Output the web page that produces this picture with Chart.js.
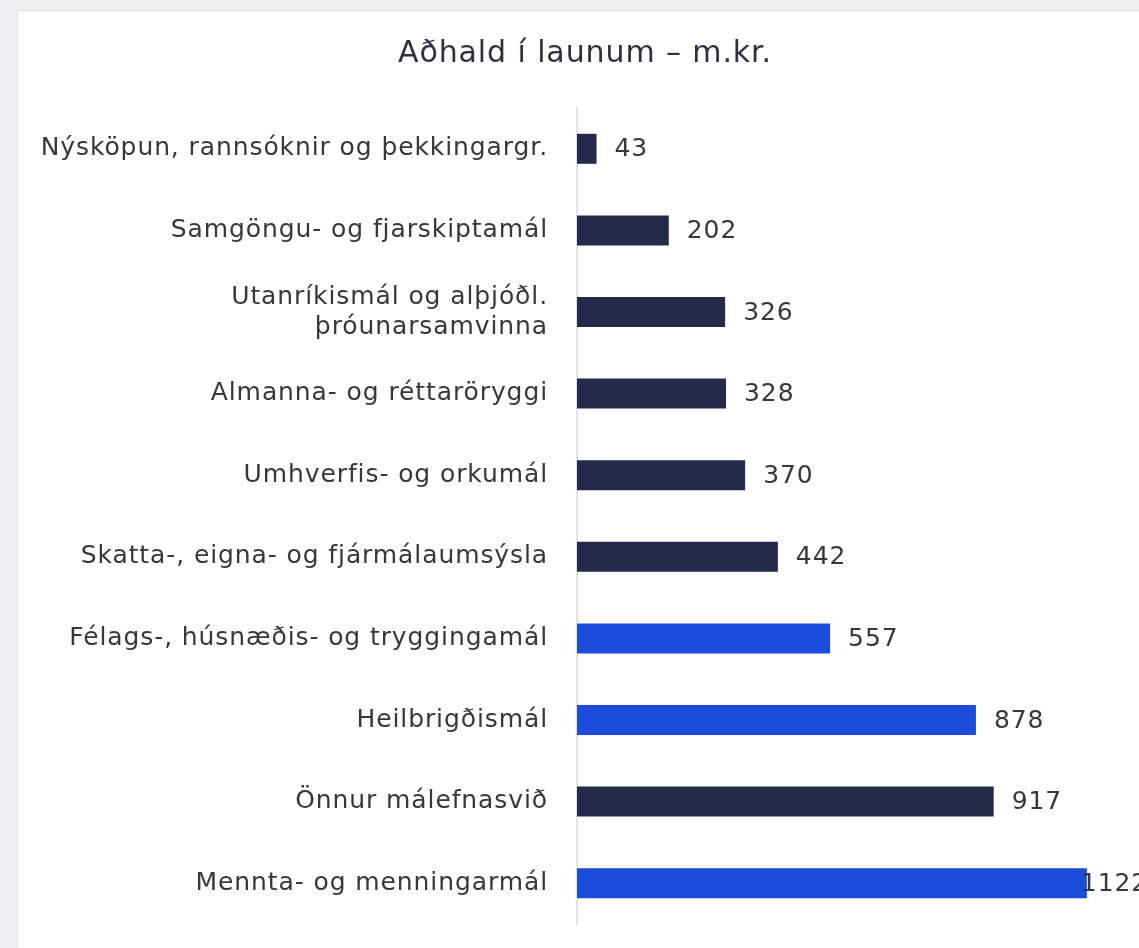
<!DOCTYPE html>
<html>
<head>
<meta charset="utf-8">
<script src="https://cdn.jsdelivr.net/npm/chart.js@4.4.1/dist/chart.umd.min.js"></script>
<style>
  html, body { margin: 0; padding: 0; width: 1139px; height: 948px; overflow: hidden; background: #efeff1; }
  #card { position: absolute; left: 17px; top: 10px; width: 1200px; height: 1000px; background: #ffffff; border: 1px solid #dedee4; }
  #wrap { position: absolute; left: 0; top: 0; width: 1170px; height: 948px; }
</style>
</head>
<body>
<div id="card"></div>
<div id="wrap"><canvas id="c" width="1170" height="948"></canvas></div>
<script>
const titleText = 'Aðhald í launum – m.kr.';
const categories = [
  'Nýsköpun, rannsóknir og þekkingargr.',
  'Samgöngu- og fjarskiptamál',
  ['Utanríkismál og alþjóðl.', 'þróunarsamvinna'],
  'Almanna- og réttaröryggi',
  'Umhverfis- og orkumál',
  'Skatta-, eigna- og fjármálaumsýsla',
  'Félags-, húsnæðis- og tryggingamál',
  'Heilbrigðismál',
  'Önnur málefnasvið',
  'Mennta- og menningarmál'
];
const values = [43, 202, 326, 328, 370, 442, 557, 878, 917, 1122];
const highlighted = [false, false, false, false, false, false, true, true, false, true];

const NAVY = '#232a4a';
const BLUE = '#1b4dda';
const FONT = '"DejaVu Sans", sans-serif';
const TEXT = '#38383c';

const spacing = {
  id: 'spacing',
  beforeUpdate(chart) { chart.ctx.letterSpacing = '0.9px'; },
  beforeDraw(chart) { chart.ctx.letterSpacing = '0.9px'; }
};

const valueLabels = {
  id: 'valueLabels',
  afterDatasetsDraw(chart) {
    const ctx = chart.ctx;
    const meta = chart.getDatasetMeta(0);
    const visibleW = window.innerWidth || 1139;
    ctx.save();
    ctx.letterSpacing = '0.9px';
    ctx.font = '25px ' + FONT;
    ctx.fillStyle = TEXT;
    ctx.textBaseline = 'middle';
    ctx.textAlign = 'left';
    meta.data.forEach((bar, i) => {
      const txt = String(values[i]);
      const w = ctx.measureText(txt).width;
      let x = bar.x + 18;
      if (x + w > visibleW) x = bar.x - 6;
      ctx.fillText(txt, x, bar.y + 1);
    });
    ctx.restore();
  }
};

new Chart(document.getElementById('c'), {
  type: 'bar',
  data: {
    labels: categories,
    datasets: [{
      data: values,
      backgroundColor: highlighted.map(h => h ? BLUE : NAVY),
      borderWidth: 0,
      barPercentage: 0.75,
      categoryPercentage: 0.49
    }]
  },
  options: {
    indexAxis: 'y',
    responsive: false,
    animation: false,
    layout: { padding: { top: 0, right: 0, bottom: 24, left: 0 } },
    plugins: {
      legend: { display: false },
      tooltip: { enabled: false },
      title: {
        display: true,
        text: titleText,
        color: '#2f3140',
        font: { family: FONT, size: 30, weight: 'normal' },
        padding: { top: 36, bottom: 36 },
        align: 'center'
      }
    },
    scales: {
      x: {
        display: false,
        min: 0,
        max: 1305
      },
      y: {
        afterFit(scale) { scale.width = 577; scale.paddingTop = 0; scale.paddingBottom = 0; },
        grid: { display: false, drawTicks: false },
        border: { display: true, color: '#e3e3e6', width: 2 },
        ticks: {
          color: TEXT,
          padding: 29,
          font: { family: FONT, size: 25 }
        }
      }
    }
  },
  plugins: [spacing, valueLabels]
});
</script>
</body>
</html>
